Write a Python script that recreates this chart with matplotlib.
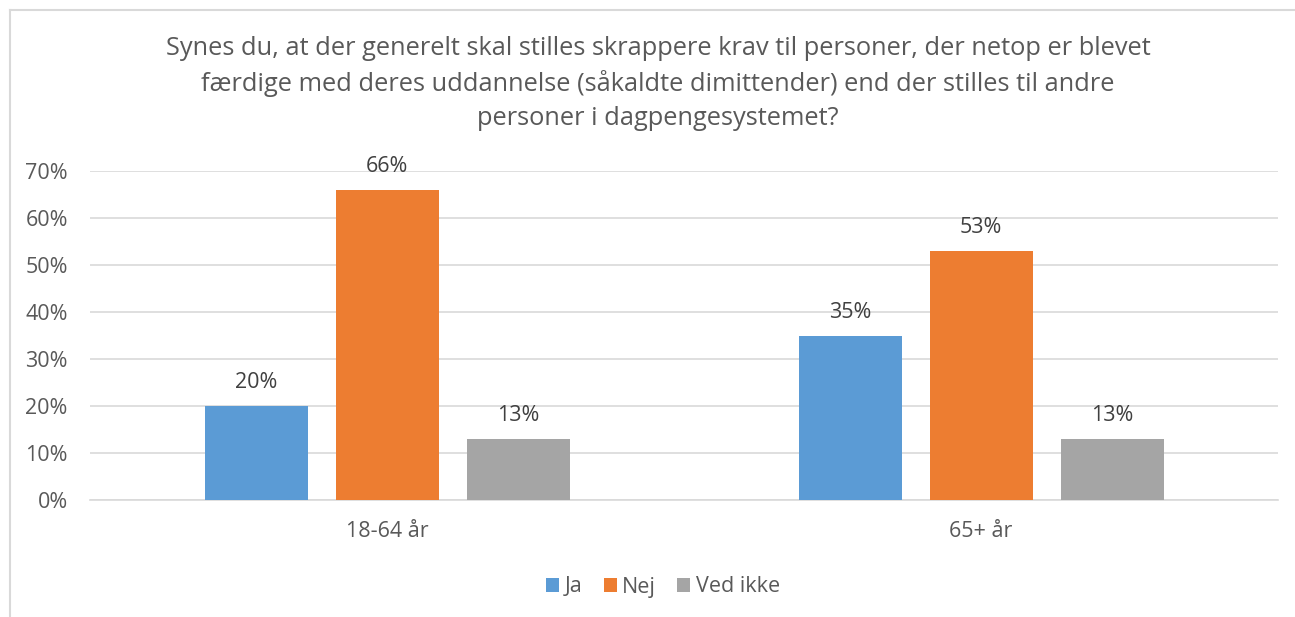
import matplotlib
matplotlib.use("Agg")
import matplotlib.pyplot as plt
import numpy as np
from matplotlib.patches import Patch

categories = ["18-64 år", "65+ år"]
series_names = ["Ja", "Nej", "Ved ikke"]
ja = [0.20, 0.35]
nej = [0.66, 0.53]
ved_ikke = [0.13, 0.13]
yticks = [0, 0.1, 0.2, 0.3, 0.4, 0.5, 0.6, 0.7]
title = ("Synes du, at der generelt skal stilles skrappere krav til personer, der netop er blevet\n"
         "færdige med deres uddannelse (såkaldte dimittender) end der stilles til andre\n"
         "personer i dagpengesystemet?")

colors = ["#5B9BD5", "#ED7D31", "#A5A5A5"]
text_color = "#595959"

plt.rcParams['font.family'] = ['Open Sans', 'DejaVu Sans']

W, H = 1295, 617
fig = plt.figure(figsize=(W / 100, H / 100), dpi=100)
fig.patch.set_facecolor("white")

# chart frame (left and top visible)
fig.add_artist(plt.Line2D([9.5 / W, 9.5 / W], [0, 1 - 10 / H], color="#D9D9D9", lw=1.5))
fig.add_artist(plt.Line2D([9.5 / W, 1], [1 - 10 / H, 1 - 10 / H], color="#D9D9D9", lw=1.5))

ax_left, ax_right = 90, 1278
y0, y70 = 500, 171
ax = fig.add_axes([ax_left / W, 1 - y0 / H, (ax_right - ax_left) / W, (y0 - y70) / H])

fs = 15.5
x = np.arange(len(categories))
bw = 103 / 594
spacing = 131 / 594
data = [ja, nej, ved_ikke]
for i, (vals, name, c) in enumerate(zip(data, series_names, colors)):
    pos = x + (i - 1) * spacing
    bars = ax.bar(pos, vals, width=bw, color=c, label=name, zorder=3)
    for b, v in zip(bars, vals):
        ax.annotate(f"{round(v*100)}%", (b.get_x() + b.get_width() / 2, v),
                    xytext=(0, 9), textcoords="offset points",
                    ha="center", va="bottom", fontsize=fs, color="#404040")

ax.set_xlim(-0.5, 1.5)
ax.set_ylim(0, 0.7)
ax.set_yticks(yticks)
ax.set_yticklabels([f"{round(t*100)}%" for t in yticks])
ax.yaxis.grid(True, color="#D9D9D9", lw=1.2, zorder=0)
ax.set_xticks(x)
ax.set_xticklabels(categories)
ax.tick_params(axis="both", length=0, labelsize=fs, colors=text_color)
ax.tick_params(axis="y", pad=16)
ax.tick_params(axis="x", pad=15)
for s in ["top", "right", "left"]:
    ax.spines[s].set_visible(False)
ax.spines["bottom"].set_color("#D9D9D9")
ax.spines["bottom"].set_linewidth(1.2)

fig.text(658 / W, 1 - 36 / H, title, ha="center", va="top", fontsize=18.3,
         color=text_color, linespacing=1.45)

handles = [Patch(facecolor=c, edgecolor="none") for c in colors]
fig.legend(handles, series_names, loc="center", bbox_to_anchor=(663 / W, 1 - 587 / H),
           ncol=3, frameon=False, fontsize=fs, handlelength=0.6, handleheight=0.6,
           handletextpad=0.25, columnspacing=1.0, labelcolor=text_color)

fig.savefig("out.png", dpi=100)
